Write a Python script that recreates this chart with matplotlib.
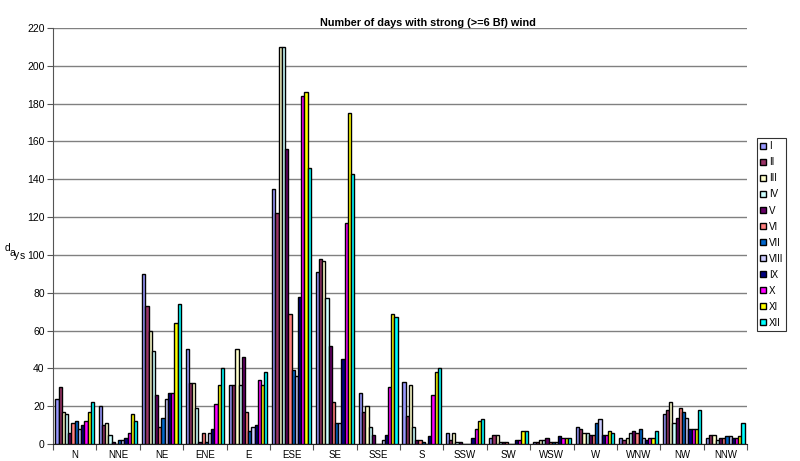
import numpy as np
import matplotlib
matplotlib.use("Agg")
import matplotlib.pyplot as plt
from matplotlib.patches import Patch

plt.rcParams['font.family'] = ['Liberation Sans', 'DejaVu Sans']

directions = ["N", "NNE", "NE", "ENE", "E", "ESE", "SE", "SSE",
              "S", "SSW", "SW", "WSW", "W", "WNW", "NW", "NNW"]
months = ["I", "II", "III", "IV", "V", "VI", "VII", "VIII", "IX", "X", "XI", "XII"]

# days with strong wind, per direction, months I..XII
N   = [24, 30, 17, 16, 6, 11, 12, 8, 10, 12, 17, 22]
NNE = [20, 10, 11, 5, 1, 0, 2, 2, 3, 6, 16, 12]
NE  = [90, 73, 60, 49, 26, 9, 14, 24, 27, 27, 64, 74]
ENE = [50, 32, 32, 19, 1, 6, 1, 6, 8, 21, 31, 40]
E   = [31, 31, 50, 31, 46, 17, 7, 9, 10, 34, 31, 38]
ESE = [135, 122, 210, 210, 156, 69, 39, 36, 78, 184, 186, 146]
SE  = [91, 98, 97, 77, 52, 22, 11, 11, 45, 117, 175, 143]
SSE = [27, 17, 20, 9, 5, 0, 0, 2, 5, 30, 69, 67]
S   = [33, 15, 31, 9, 2, 2, 1, 0, 4, 26, 38, 40]
SSW = [6, 2, 6, 1, 1, 0, 0, 0, 3, 8, 12, 13]
SW  = [3, 5, 5, 1, 1, 1, 0, 0, 2, 2, 7, 7]
WSW = [1, 1, 2, 2, 3, 1, 1, 1, 4, 3, 3, 3]
W   = [9, 8, 6, 6, 5, 5, 11, 13, 5, 5, 7, 6]
WNW = [3, 2, 3, 6, 7, 6, 8, 3, 2, 3, 3, 7]
NW  = [16, 18, 22, 11, 14, 19, 17, 14, 8, 8, 8, 18]
NNW = [3, 5, 5, 2, 3, 3, 4, 4, 3, 3, 4, 11]

table = np.array([N, NNE, NE, ENE, E, ESE, SE, SSE,
                  S, SSW, SW, WSW, W, WNW, NW, NNW])

colors = ["#9999FF", "#993366", "#FFFFCC", "#CCFFFF", "#660066", "#FF8080",
          "#0066CC", "#CCCCFF", "#000080", "#FF00FF", "#FFFF00", "#00FFFF"]

fig = plt.figure(figsize=(8.0, 4.61), dpi=100)
ax = fig.add_axes([53 / 800, 1 - 444 / 461, 694 / 800, 416 / 461])

n_cat = len(directions)
n_ser = len(months)
bar_w = 1.0 / (n_ser + 1.5)
x = np.arange(n_cat)
for j in range(n_ser):
    offs = (j - (n_ser - 1) / 2) * bar_w
    ax.bar(x + offs, table[:, j], width=bar_w, color=colors[j],
           edgecolor="black", linewidth=1.0, label=months[j], zorder=3)

ax.set_xlim(-0.5, n_cat - 0.5)
ax.set_ylim(0, 220)
ax.set_yticks(np.arange(0, 221, 20))
ax.yaxis.grid(True, color="#808080", linewidth=1.0, zorder=0)
ax.set_axisbelow(True)

# category boundaries carry the tick marks, centres carry the labels
ax.set_xticks(np.arange(-0.5, n_cat, 1.0))
ax.set_xticklabels([])
ax.set_xticks(x, minor=True)
ax.set_xticklabels(directions, minor=True)
ax.tick_params(axis="x", which="major", length=4, width=0.8, color="#555555")
ax.tick_params(axis="x", which="minor", length=0, pad=4, labelsize=7)
ax.tick_params(axis="y", length=4, width=0.8, color="#555555", labelsize=7.5, pad=2)

for side in ("top", "right"):
    ax.spines[side].set_visible(False)
ax.spines["left"].set_color("#555555")
ax.spines["bottom"].set_color("#222222")

fig.text(428 / 800, 1 - 23 / 461, "Number of days with strong (>=6 Bf) wind",
         ha="center", va="center", fontsize=7.8, fontweight="bold")

# axis title letters
for ch, (px, py) in zip("days", [(7, 248), (12, 253), (17, 255), (22, 256)]):
    fig.text(px / 800, 1 - py / 461, ch, ha="center", va="center", fontsize=7.5)

handles = [Patch(facecolor=c, edgecolor="black", linewidth=1.0) for c in colors]
leg = fig.legend(handles, months, loc="upper left",
                 bbox_to_anchor=(757 / 800, 1 - 138 / 461),
                 fontsize=7, frameon=True, fancybox=False, borderpad=0.35,
                 handlelength=0.6, handleheight=0.6, handletextpad=0.25,
                 labelspacing=0.62, borderaxespad=0)
leg.get_frame().set_edgecolor("black")
leg.get_frame().set_linewidth(0.8)

fig.savefig("out.png", dpi=100)
